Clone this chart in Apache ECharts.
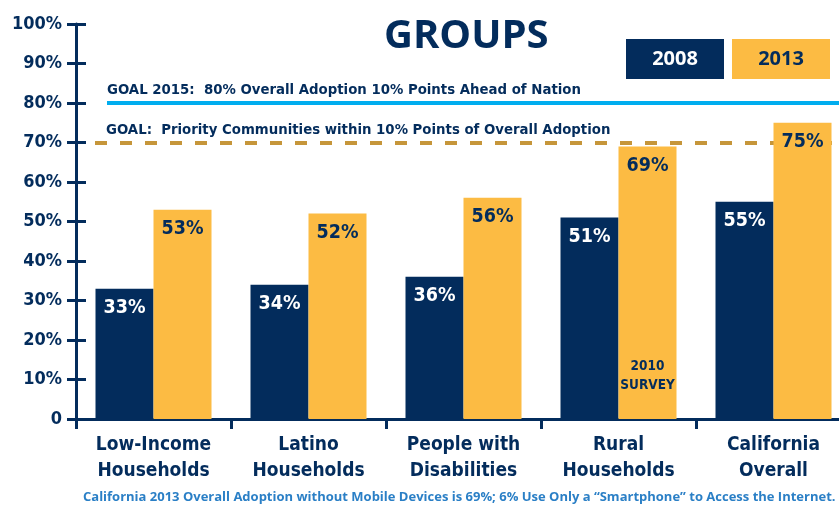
<!DOCTYPE html>
<html>
<head>
<meta charset="utf-8">
<script src="https://cdn.jsdelivr.net/npm/echarts@6/dist/echarts.min.js"></script>
<style>
  html, body { margin: 0; padding: 0; background: #fff; }
  #chart { width: 839px; height: 506px; }
</style>
</head>
<body>
<div id="chart"></div>
<script>
  var categories = ['Low-Income\nHouseholds', 'Latino\nHouseholds', 'People with\nDisabilities', 'Rural\nHouseholds', 'California\nOverall'];
  var values2008 = [33, 34, 36, 51, 55];
  var values2013 = [53, 52, 56, 69, 75];
  var goalOverall = 80;
  var goalPriority = 70;
  var yTicks = [0, 10, 20, 30, 40, 50, 60, 70, 80, 90, 100];

  var NAVY = '#032c5c';
  var GOLD = '#fcbb43';
  var narrow = "'Liberation Sans Narrow', 'DejaVu Sans Condensed', 'Roboto Condensed', sans-serif";

  var chart = echarts.init(document.getElementById('chart'));

  var yAxisBase = {
    type: 'value',
    min: yTicks[0],
    max: yTicks[yTicks.length - 1],
    interval: 10,
    position: 'left',
    splitLine: { show: false }
  };

  chart.setOption({
    animation: false,
    title: [
      {
        text: 'GROUPS',
        left: 379,
        top: 12,
        textStyle: { color: NAVY, fontSize: 40, fontWeight: 'bold', fontFamily: "'Open Sans', sans-serif" }
      },
      {
        text: 'California 2013 Overall Adoption without Mobile Devices is 69%; 6% Use Only a \u201cSmartphone\u201d to Access the Internet.',
        left: 83,
        top: 491,
        padding: 0,
        textStyle: { color: '#2a7fc6', fontSize: 13, fontWeight: 'bold', fontFamily: "'Open Sans', sans-serif" }
      }
    ],
    legend: {
      left: 621,
      top: 39,
      itemWidth: 0,
      itemHeight: 0,
      itemGap: 3,
      padding: 0,
      selectedMode: false,
      data: ['2008', '2013'],
      formatter: function (name) { return '{y' + name + '|' + name + '}'; },
      textStyle: {
        rich: {
          y2008: { width: 98, height: 40, lineHeight: 40, align: 'center', backgroundColor: NAVY, color: '#fff', fontSize: 20, fontWeight: 'bold', fontFamily: "'Open Sans', sans-serif" },
          y2013: { width: 98, height: 40, lineHeight: 40, align: 'center', backgroundColor: GOLD, color: NAVY, fontSize: 20, fontWeight: 'bold', fontFamily: "'Open Sans', sans-serif" }
        }
      }
    },
    grid: { left: 76, right: -12, top: 24, bottom: 87, containLabel: false, outerBoundsMode: 'none' },
    xAxis: {
      type: 'category',
      data: categories,
      axisLine: { lineStyle: { color: NAVY, width: 3 } },
      axisTick: { show: true, interval: 0, length: 10, lineStyle: { color: NAVY, width: 3 } },
      axisLabel: {
        interval: 0,
        margin: 13,
        color: NAVY,
        fontSize: 19,
        fontWeight: 'bold',
        lineHeight: 26,
        fontFamily: narrow
      }
    },
    yAxis: [
      Object.assign({}, yAxisBase, {
        axisLine: { show: true, lineStyle: { color: NAVY, width: 3 } },
        axisTick: { show: true, length: 9, lineStyle: { color: NAVY, width: 3 } },
        axisLabel: {
          margin: 14,
          color: NAVY,
          fontSize: 18,
          fontWeight: 'bold',
          fontFamily: narrow,
          formatter: function (v) { return v === 0 ? '0' : v + '%'; }
        }
      }),
      Object.assign({}, yAxisBase, {
        axisLine: { show: false },
        axisTick: { show: true, inside: true, length: 10, lineStyle: { color: NAVY, width: 3 } },
        axisLabel: { show: false }
      })
    ],
    series: [
      {
        name: '2008',
        type: 'bar',
        z: 2,
        data: values2008,
        barWidth: 58,
        barGap: '0%',
        itemStyle: { color: NAVY },
        label: {
          show: true,
          position: 'insideTop',
          distance: 9,
          color: '#fff',
          fontSize: 19.5,
          fontWeight: 'bold',
          fontFamily: narrow,
          formatter: '{c}%'
        },
        markLine: {
          silent: true,
          z: 1,
          symbol: ['none', 'none'],
          data: [
            [
              { x: 107, yAxis: goalOverall },
              { x: 839, yAxis: goalOverall,
                lineStyle: { color: '#00adef', width: 4, type: 'solid' },
                label: {
                  show: true,
                  position: 'insideStartTop',
                  distance: [0, 5],
                  color: NAVY,
                  fontSize: 14.8,
                  fontWeight: 'bold',
                  fontFamily: narrow,
                  formatter: 'GOAL 2015:  80% Overall Adoption 10% Points Ahead of Nation'
                }
              }
            ],
            [
              { x: 95, yAxis: goalPriority },
              { x: 839, yAxis: goalPriority,
                lineStyle: { color: '#c6963a', width: 4, type: [12, 13] },
                label: {
                  show: true,
                  position: 'insideStartTop',
                  distance: [0, 5],
                  padding: [0, 0, 0, 11],
                  color: NAVY,
                  fontSize: 14.8,
                  fontWeight: 'bold',
                  fontFamily: narrow,
                  formatter: 'GOAL:  Priority Communities within 10% Points of Overall Adoption'
                }
              }
            ]
          ]
        }
      },
      {
        name: '2013',
        type: 'bar',
        z: 3,
        data: values2013,
        barWidth: 58,
        barGap: '0%',
        itemStyle: { color: GOLD },
        label: {
          show: true,
          position: 'insideTop',
          distance: 9,
          color: NAVY,
          fontSize: 19.5,
          fontWeight: 'bold',
          fontFamily: narrow,
          formatter: '{c}%'
        },
        markPoint: {
          silent: true,
          symbol: 'rect',
          symbolSize: 0,
          data: [
            {
              coord: [categories[3], 11],
              label: {
                show: true,
                position: 'inside',
                color: NAVY,
                fontSize: 13.5,
                fontWeight: 'bold',
                lineHeight: 19,
                fontFamily: narrow,
                formatter: '2010\nSURVEY'
              }
            }
          ]
        }
      }
    ]
  });
</script>
</body>
</html>
